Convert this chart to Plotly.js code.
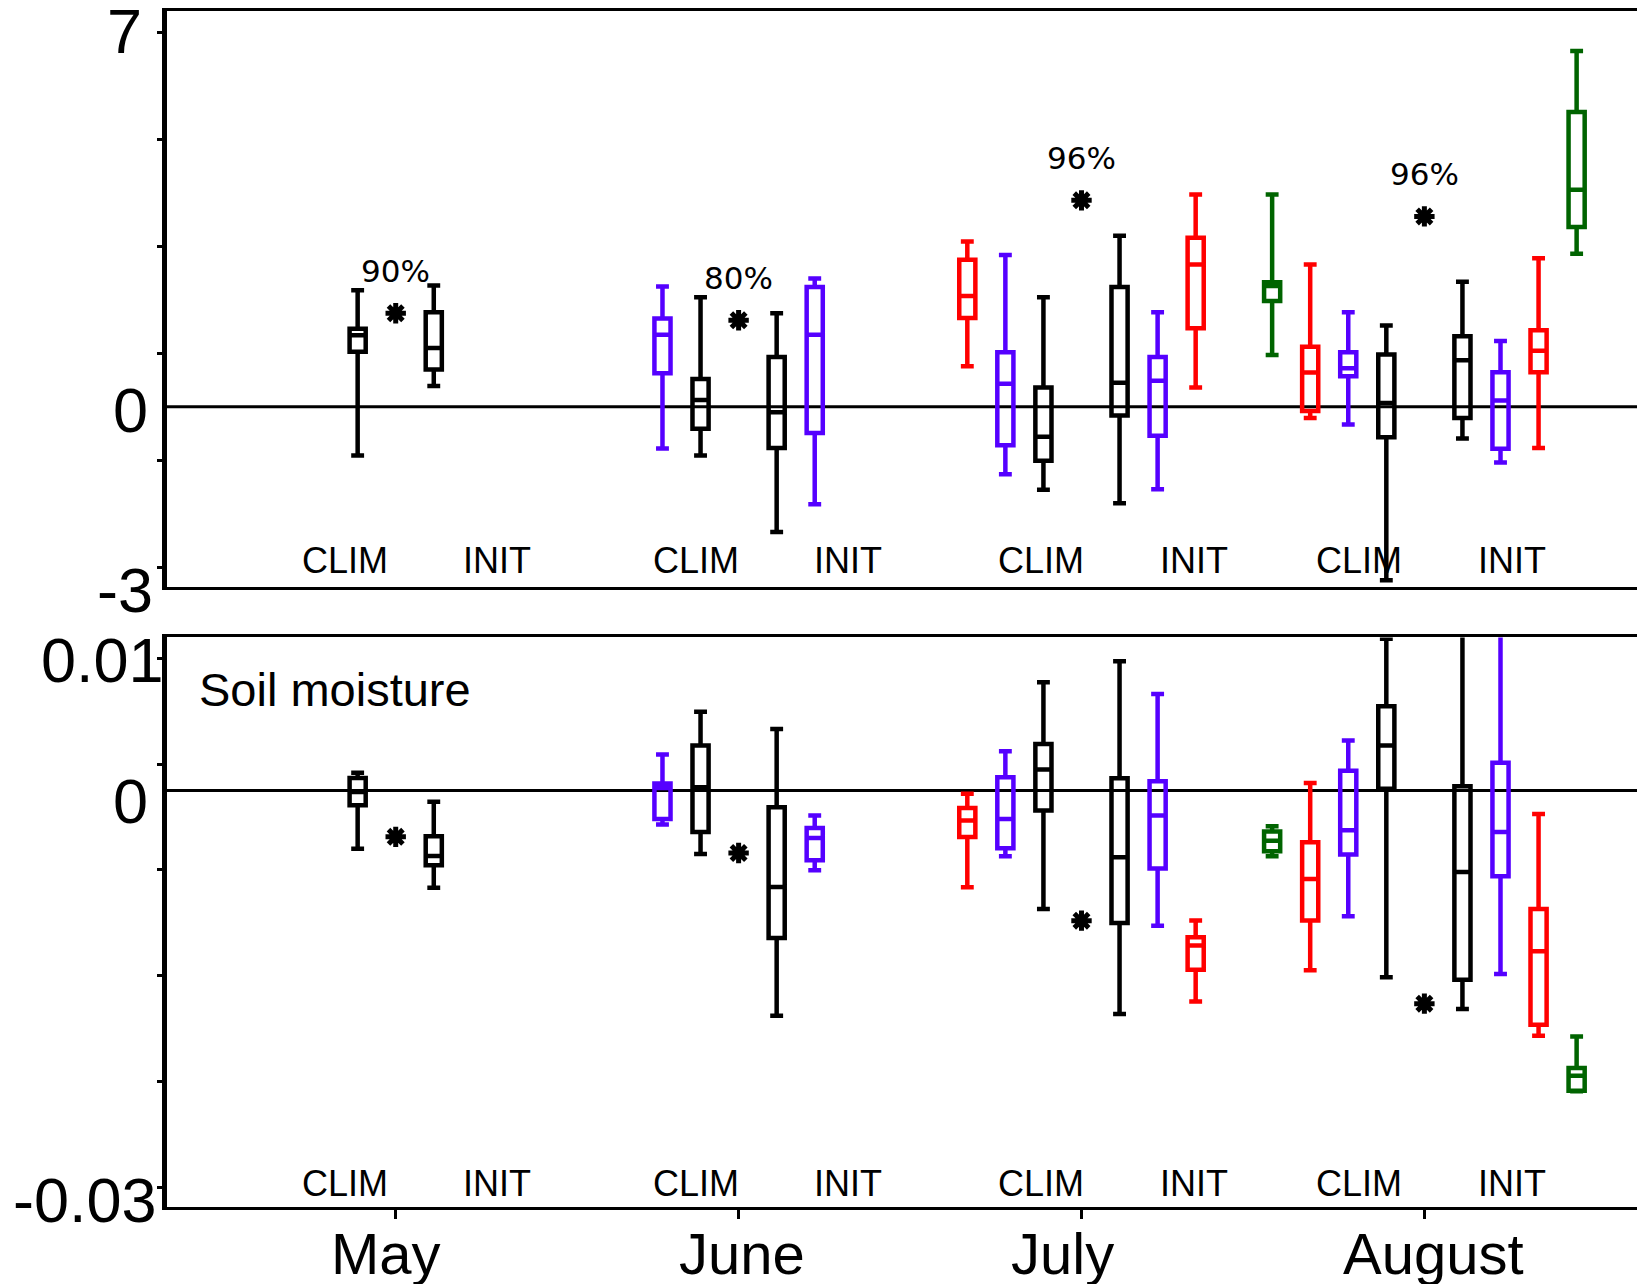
<!DOCTYPE html>
<html>
<head>
<meta charset="utf-8">
<script src="https://cdn.plot.ly/plotly-3.0.1.min.js"></script>
<style>
  html, body { margin: 0; padding: 0; overflow: hidden; background: #fff; }
  #chart { width: 1650px; height: 1284px; }
</style>
</head>
<body>
<div id="chart"></div>
<script>
// ---------------- DATA ----------------
const months = ['May', 'June', 'July', 'August'];
const monthPos = [1, 2, 3, 4];

// series: colour slot (1 = nearest to month centre)
const seriesNames = ['black', 'purple', 'red', 'green'];
const seriesColors = ['#000000', '#5500ff', '#ff0000', '#006400'];
const seriesSlot = [1, 2, 3, 4];

// Top panel: [lowerfence, q1, median, q3, upperfence] per month (null = absent)
const topClim = {
  black:  [[-0.91, 1.03, 1.34, 1.46, 2.18], [-0.91, -0.41, 0.13, 0.52, 2.05], [-1.55, -1.01, -0.56, 0.36, 2.05], [-3.24, -0.57, 0.07, 0.98, 1.52]],
  purple: [null, [-0.78, 0.63, 1.35, 1.65, 2.25], [-1.26, -0.72, 0.43, 1.02, 2.84], [-0.33, 0.57, 0.72, 1.02, 1.77]],
  red:    [null, null, [0.76, 1.66, 2.07, 2.75, 3.09], [-0.21, -0.08, 0.64, 1.125, 2.66]],
  green:  [null, null, null, [0.97, 1.98, 2.26, 2.33, 3.97]]
};
const topInit = {
  black:  [[0.39, 0.70, 1.10, 1.77, 2.27], [-2.34, -0.77, -0.10, 0.93, 1.75], [-1.80, -0.16, 0.45, 2.24, 3.20], [-0.59, -0.21, 0.87, 1.32, 2.34]],
  purple: [null, [-1.82, -0.49, 1.35, 2.24, 2.40], [-1.54, -0.54, 0.49, 0.93, 1.77], [-1.04, -0.785, 0.12, 0.645, 1.23]],
  red:    [null, null, [0.36, 1.47, 2.66, 3.16, 3.97], [-0.77, 0.645, 1.05, 1.43, 2.78]],
  green:  [null, null, null, [2.86, 3.36, 4.06, 5.51, 6.65]]
};
const topStars = [1.75, 1.62, 3.86, 3.56];
const topPercent = ['90%', '80%', '96%', '96%'];

// Bottom panel (soil moisture)
const botClim = {
  black:  [[-0.0044, -0.0011, -0.0001, 0.00095, 0.00135], [-0.00479, -0.00313, 0.00025, 0.00341, 0.00596], [-0.00896, -0.00151, 0.00159, 0.00353, 0.0082], [-0.01413, 0.00015, 0.00341, 0.00638, 0.0115]],
  purple: [null, [-0.00257, -0.00214, 0.0002, 0.00053, 0.00273], [-0.00497, -0.00436, -0.00214, 0.00101, 0.00298], [-0.00951, -0.00484, -0.003, 0.00151, 0.00379]],
  red:    [null, null, [-0.00732, -0.00351, -0.00227, -0.00131, -0.00023], [-0.0136, -0.00982, -0.00669, -0.00391, 0.00058]],
  green:  [null, null, null, [-0.00497, -0.00459, -0.00379, -0.0031, -0.0027]]
};
const botInit = {
  black:  [[-0.00735, -0.00565, -0.00495, -0.00345, -0.00085], [-0.01703, -0.01115, -0.00729, -0.00126, 0.00467], [-0.0169, -0.01002, -0.00505, 0.00093, 0.00979], [-0.01653, -0.01431, -0.00616, 0.00033, 0.013]],
  purple: [null, [-0.00603, -0.00527, -0.00358, -0.00283, -0.00189], [-0.01022, -0.0059, -0.00189, 0.00071, 0.00732], [-0.01388, -0.00648, -0.00313, 0.0021, 0.013]],
  red:    [null, null, [-0.01595, -0.01355, -0.01173, -0.0111, -0.00982], [-0.01855, -0.01771, -0.01216, -0.00896, -0.00177]],
  green:  [null, null, null, [-0.02275, -0.02271, -0.02157, -0.02099, -0.0186]]
};
const botStars = [-0.0035, -0.00472, -0.00984, -0.01612];

const sideLabels = ['CLIM', 'INIT'];
const climLabelX = [0.851, 1.877, 2.881, 3.809];
const initLabelX = [1.296, 2.319, 3.327, 4.256];
const monthLabelShift = [-10, 3, -19, 9];

// ---------------- BUILD ----------------
const SLOT = 0.111;
const traces = [];

function addBoxes(climObj, initObj, xa, ya) {
  seriesNames.forEach((name, si) => {
    const xs = [], lf = [], q1 = [], med = [], q3 = [], uf = [];
    [[climObj, -1], [initObj, 1]].forEach(([obj, sign]) => {
      obj[name].forEach((st, mi) => {
        if (!st) return;
        xs.push(monthPos[mi] + sign * seriesSlot[si] * SLOT);
        lf.push(st[0]); q1.push(st[1]); med.push(st[2]); q3.push(st[3]); uf.push(st[4]);
      });
    });
    traces.push({
      type: 'box', xaxis: xa, yaxis: ya,
      x: xs, lowerfence: lf, q1: q1, median: med, q3: q3, upperfence: uf,
      width: 0.047, whiskerwidth: 0.8, boxpoints: false,
      line: { color: seriesColors[si], width: 4.5 },
      fillcolor: 'rgba(0,0,0,0)',
      showlegend: false, hoverinfo: 'skip'
    });
  });
}
addBoxes(topClim, topInit, 'x', 'y');
addBoxes(botClim, botInit, 'x2', 'y2');

function addStars(vals, xa, ya) {
  traces.push({
    type: 'scatter', mode: 'markers', xaxis: xa, yaxis: ya,
    x: monthPos, y: vals,
    marker: { symbol: 'asterisk-open', size: 17, color: '#000', line: { color: '#000', width: 5 } },
    showlegend: false, hoverinfo: 'skip'
  });
}
addStars(topStars, 'x', 'y');
addStars(botStars, 'x2', 'y2');

const FONT = 'Liberation Sans, Arial, sans-serif';
const annotations = [];

// y labels
function yLabel(text, yref, yval, xshift, yshift) {
  annotations.push({ text: text, xref: 'paper', x: 0, xanchor: 'right', xshift: xshift,
    yref: yref, y: yval, yanchor: 'middle', yshift: yshift, showarrow: false,
    font: { family: FONT, size: 63, color: '#000' } });
}
yLabel('7', 'y', 7, -23, 1);
yLabel('0', 'y', 0, -17, -3);
yLabel('-3', 'y', -3, -12, -23);
yLabel('0.01', 'y2', 0.01, -1, -2);
yLabel('0', 'y2', 0, -17, -10);
yLabel('-0.03', 'y2', -0.03, -8, -13);

// month labels under bottom axis
months.forEach((m, i) => annotations.push({ text: m, xref: 'x2', x: monthPos[i], xshift: monthLabelShift[i],
  yref: 'y2 domain', y: 0, yanchor: 'middle', yshift: -46, showarrow: false,
  font: { family: FONT, size: 58, color: '#000' } }));

// CLIM / INIT labels
[['y', -2.88], ['y2', -0.02975]].forEach(([yr, yv]) => {
  const xr = yr === 'y' ? 'x' : 'x2';
  climLabelX.forEach(xv => annotations.push({ text: sideLabels[0], xref: xr, yref: yr, x: xv, y: yv,
    showarrow: false, font: { family: FONT, size: 36, color: '#000' } }));
  initLabelX.forEach(xv => annotations.push({ text: sideLabels[1], xref: xr, yref: yr, x: xv, y: yv,
    showarrow: false, font: { family: FONT, size: 36, color: '#000' } }));
});

// percentage labels above top stars
topPercent.forEach((t, i) => annotations.push({ text: t, xref: 'x', yref: 'y', x: monthPos[i], y: topStars[i],
  yshift: 42, showarrow: false, font: { family: 'DejaVu Sans, sans-serif', size: 31, color: '#000' } }));

// panel title
annotations.push({ text: 'Soil moisture', xref: 'paper', x: 0, xanchor: 'left', xshift: 30,
  yref: 'y2 domain', y: 0.909, yanchor: 'middle', showarrow: false,
  font: { family: FONT, size: 47, color: '#000' } });

const shapes = [
  { type: 'line', xref: 'x domain', x0: 0, x1: 1, yref: 'y', y0: 0, y1: 0, line: { color: '#000', width: 3 }, layer: 'below' },
  { type: 'line', xref: 'x2 domain', x0: 0, x1: 1, yref: 'y2', y0: 0, y1: 0, line: { color: '#000', width: 3 }, layer: 'below' }
];

const xRange = [0.333, 4.658];
const commonX = { range: xRange, showline: true, mirror: true, linecolor: '#000', linewidth: 3,
  showgrid: false, zeroline: false, fixedrange: true };

const layout = {
  width: 1650, height: 1284,
  margin: { l: 167, r: 0, t: 11, b: 77 },
  paper_bgcolor: '#fff', plot_bgcolor: '#fff',
  boxmode: 'overlay',
  showlegend: false,
  font: { family: FONT, color: '#000' },
  xaxis: Object.assign({}, commonX, { anchor: 'y', ticks: '', showticklabels: false }),
  yaxis: { domain: [0.5183, 1], anchor: 'x', range: [-3.37, 7.4], showline: true, mirror: true,
    linecolor: '#000', linewidth: 5, ticks: 'outside', ticklen: 5, tickwidth: 3, tickcolor: '#000',
    tickvals: [7, 5, 3, 1, -1, -3], showticklabels: false, showgrid: false, zeroline: false },
  xaxis2: Object.assign({}, commonX, { anchor: 'y2', ticks: 'outside', ticklen: 9, tickwidth: 3, tickcolor: '#000',
    tickvals: monthPos, showticklabels: false }),
  yaxis2: { domain: [0, 0.4762], anchor: 'x2', range: [-0.03151, 0.01159], showline: true, mirror: true,
    linecolor: '#000', linewidth: 5, ticks: 'outside', ticklen: 5, tickwidth: 3, tickcolor: '#000',
    tickvals: [0.01, 0.002, -0.006, -0.014, -0.022, -0.03], showticklabels: false, showgrid: false, zeroline: false },
  annotations: annotations,
  shapes: shapes
};

Plotly.newPlot('chart', traces, layout, { staticPlot: true, displayModeBar: false });
</script>
</body>
</html>
